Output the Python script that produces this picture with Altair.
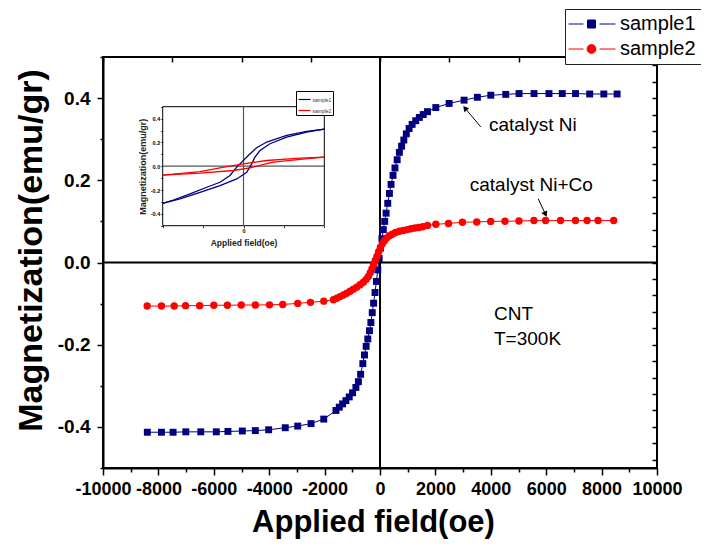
import altair as alt
import pandas as pd

# ---------------- main curves ----------------
S1_FIELD = [-8400, -7890, -7470, -7010, -6470, -5910, -5490, -4970, -4500, -4020,
            -3420, -2970, -2490, -2030, -1590, -1470, -1350, -1230, -1110, -990,
            -870, -780, -700, -620, -560, -500, -440, -380, -330, -280,
            -230, -180, -130, -80, -30, 20, 70, 120, 170, 220,
            280, 340, 400, 470, 540, 620, 700, 780, 860, 950,
            1050, 1160, 1290, 1420, 1560, 1715, 2015, 2495, 3035, 3515,
            4000, 4540, 5020, 5560, 6100, 6580, 7060, 7570, 8080, 8560]
S1_M = [-0.413, -0.413, -0.413, -0.412, -0.412, -0.412, -0.411, -0.410, -0.409, -0.407,
        -0.402, -0.398, -0.392, -0.381, -0.360, -0.352, -0.344, -0.336, -0.327, -0.317,
        -0.304, -0.290, -0.272, -0.246, -0.225, -0.204, -0.186, -0.166, -0.146, -0.122,
        -0.099, -0.073, -0.046, -0.018, 0.010, 0.035, 0.058, 0.080, 0.100, 0.120,
        0.144, 0.168, 0.190, 0.212, 0.230, 0.250, 0.268, 0.283, 0.298, 0.313,
        0.326, 0.336, 0.345, 0.353, 0.360, 0.367, 0.377, 0.387, 0.395, 0.402,
        0.407, 0.409, 0.411, 0.411, 0.411, 0.411, 0.411, 0.410, 0.410, 0.410]

S2_FIELD = [-8405, -7890, -7430, -7020, -6510, -6000, -5510, -5010, -4500, -3990,
            -3510, -2970, -2510, -2030, -1680, -1560, -1440, -1320, -1200, -1080,
            -960, -840, -720, -600, -500, -420, -350, -290, -230, -170,
            -110, -50, 10, 80, 160, 250, 340, 440, 560, 700,
            840, 980, 1120, 1260, 1400, 1540, 1715, 2015, 2471, 2975,
            3493, 3996, 4512, 5016, 5557, 5978, 6518, 7058, 7477, 7873, 8437]
S2_M = [-0.106, -0.106, -0.106, -0.105, -0.105, -0.104, -0.104, -0.1035, -0.1035, -0.103,
        -0.102, -0.0995, -0.097, -0.094, -0.0905, -0.087, -0.083, -0.079, -0.075, -0.070,
        -0.065, -0.060, -0.054, -0.048, -0.041, -0.034, -0.025, -0.015, -0.005, 0.005,
        0.015, 0.026, 0.035, 0.045, 0.053, 0.060, 0.065, 0.069, 0.073, 0.076,
        0.078, 0.080, 0.082, 0.084, 0.085, 0.087, 0.090, 0.093, 0.095, 0.098,
        0.0987, 0.100, 0.1003, 0.101, 0.102, 0.102, 0.102, 0.102, 0.102, 0.102, 0.102]

SERIES = ["sample1", "sample2"]
COLORS = ["#000080", "#ff0000"]

# ---------------- inset hysteresis loops ----------------
IN1_DOWN_F = [1000, 782, 535, 287, 163, 59, -22, -84, -167, -291, -455, -662, -868, -1000]
IN1_DOWN_M = [0.312, 0.293, 0.259, 0.203, 0.155, 0.090, 0.034, -0.008, -0.078, -0.135, -0.177, -0.233, -0.284, -0.312]
IN1_UP_F = [-1000, -786, -538, -291, -84, 40, 101, 142, 204, 328, 535, 782, 1000]
IN1_UP_M = [-0.312, -0.275, -0.219, -0.163, -0.107, -0.051, 0.020, 0.076, 0.132, 0.189, 0.245, 0.287, 0.312]
IN2_DOWN_F = [1000, 700, 287, 0, -208, -538, -1000]
IN2_DOWN_M = [0.077, 0.068, 0.048, 0.020, -0.003, -0.045, -0.075]
IN2_UP_F = [-1000, -538, -126, 80, 163, 369, 700, 1000]
IN2_UP_M = [-0.075, -0.059, -0.036, -0.014, 0.000, 0.034, 0.057, 0.077]

# ---------------- annotations ----------------
ANN_TEXT = ["catalyst Ni", "catalyst Ni+Co", "CNT", "T=300K"]
ANN_X = [3936, 3241, 4116, 4116]
ANN_Y = [0.320, 0.1736, -0.140, -0.1996]
ARROW_X1 = [3637, 5711]
ARROW_Y1 = [0.330, 0.155]
ARROW_X2 = [3069, 5974]
ARROW_Y2 = [0.3756, 0.1174]
HEAD_ANGLE = [320, 155]

X_TICKS = list(range(-10000, 10001, 1000))
Y_TICKS = [round(-0.5 + 0.1 * i, 1) for i in range(11)]
TOP_TICKS = list(range(-10000, 10001, 2500))
RIGHT_TICKS = [round(-0.48 + 0.04 * i, 2) for i in range(25)]

W, H = 554, 411
FONT = "Liberation Sans"

main_df = pd.DataFrame({
    "field": S1_FIELD + S2_FIELD,
    "m": S1_M + S2_M,
    "series": ["sample1"] * len(S1_FIELD) + ["sample2"] * len(S2_FIELD),
})

xs = alt.Scale(domain=[-10000, 10000], nice=False, zero=False)
ys = alt.Scale(domain=[-0.5, 0.5], nice=False, zero=False)

x_axis = alt.Axis(
    orient="bottom", values=X_TICKS, grid=False,
    labelExpr="datum.value % 2000 === 0 ? '' + datum.value : ''",
    tickSize={"condition": {"test": "datum.value % 2000 === 0", "value": 7}, "value": 4},
    tickWidth=1.5, tickColor="black", domainColor="black", domainWidth=2,
    labelFont=FONT, labelFontSize=18, labelFontWeight="bold", labelColor="black",
    labelPadding=5, labelOverlap=False, labelFlush=False,
    title="Applied field(oe)", titleFont=FONT, titleFontSize=31, titleFontWeight="bold",
    titleColor="black", titlePadding=9, titleX=270,
)
y_axis = alt.Axis(
    orient="left", values=Y_TICKS, grid=False,
    labelExpr="abs(round(datum.value*10)) % 2 === 0 ? (datum.value < -0.001 ? '-' : '') + format(abs(datum.value), '.1f') : ''",
    tickSize={"condition": {"test": "abs(round(datum.value*10)) % 2 === 0", "value": 6}, "value": 3},
    tickWidth=1.5, tickColor="black", domainColor="black", domainWidth=2,
    labelFont=FONT, labelFontSize=19, labelFontWeight="bold", labelColor="black",
    labelPadding=7, labelOverlap=False, labelFlush=False,
    title="Magnetization(emu/gr)", titleFont=FONT, titleFontSize=34, titleFontWeight="bold",
    titleColor="black", titlePadding=9, titleY=193,
)


def MX(f):
    return alt.X(f, scale=xs, axis=x_axis)


def MY(f):
    return alt.Y(f, scale=ys, axis=y_axis)


base = alt.Chart(main_df)

zero_v = alt.Chart(pd.DataFrame({"v": [0]})).mark_rule(color="black", strokeWidth=2).encode(
    x=MX("v:Q"))
zero_h = alt.Chart(pd.DataFrame({"v": [0]})).mark_rule(color="black", strokeWidth=2).encode(
    y=MY("v:Q"))

lines = base.mark_line(strokeWidth=1).encode(
    x=MX("field:Q"), y=MY("m:Q"),
    color=alt.Color("series:N", scale=alt.Scale(domain=SERIES, range=COLORS), legend=None),
    order="field:Q",
)
pts1 = base.transform_filter("datum.series === 'sample1'").mark_point(
    shape="square", filled=True, size=48, color=COLORS[0], opacity=1).encode(
    x=MX("field:Q"), y=MY("m:Q"))
pts2 = base.transform_filter("datum.series === 'sample2'").mark_point(
    shape="circle", filled=True, size=55, color=COLORS[1], opacity=1).encode(
    x=MX("field:Q"), y=MY("m:Q"))

SQ_PATH = "M-2.875,0H0.875M1.875,-1H3.875V1H1.875ZM4.875,0H8.875"
CI_PATH = "M-2.875,0H0.875M1.775,0A1.1,1.1 0 1,1 3.975,0A1.1,1.1 0 1,1 1.775,0ZM4.875,0H8.875"

main_legend = alt.Legend(
    orient="none", legendX=462, legendY=-48, title=None,
    labelFont=FONT, labelFontSize=20, labelColor="black", labelOffset=30,
    padding=5, rowPadding=5, strokeColor="#222222", fillColor="white",
    symbolStrokeWidth=1, symbolSize=64,
)
legend_layer = base.transform_filter("false").mark_point(
    filled=True, size=64, opacity=1, strokeWidth=1).encode(
    x=MX("field:Q"), y=MY("m:Q"),
    fill=alt.Fill("series:N", scale=alt.Scale(domain=SERIES, range=COLORS), legend=main_legend),
    stroke=alt.Stroke("series:N", scale=alt.Scale(domain=SERIES, range=COLORS), legend=main_legend),
    shape=alt.Shape("series:N", scale=alt.Scale(domain=SERIES, range=[SQ_PATH, CI_PATH]), legend=main_legend),
)

ann_df = pd.DataFrame({"t": ANN_TEXT, "x": ANN_X, "y": ANN_Y})
ann = alt.Chart(ann_df).mark_text(align="left", baseline="alphabetic", font=FONT,
                                  fontSize=19, color="black").encode(
    x=MX("x:Q"), y=MY("y:Q"), text="t:N")
arr_df = pd.DataFrame({"x1": ARROW_X1, "y1": ARROW_Y1, "x2": ARROW_X2, "y2": ARROW_Y2,
                       "a": HEAD_ANGLE})
arrows = alt.Chart(arr_df).mark_rule(color="black", strokeWidth=1).encode(
    x=MX("x1:Q"), y=MY("y1:Q"), x2="x2:Q", y2="y2:Q")
heads = alt.Chart(arr_df).mark_point(shape="triangle-up", filled=True, size=40,
                                     color="black", opacity=1).encode(
    x=MX("x2:Q"), y=MY("y2:Q"), angle=alt.Angle("a:Q", scale=None))

main_group = alt.layer(zero_v, zero_h, lines, pts1, pts2, legend_layer, arrows, heads, ann)

# ---------------- mirror axes (top / right, ticks inside) ----------------
mirror_df = pd.DataFrame({"x": [-10000, 10000], "y": [-0.5, 0.5]})
mirror_group = alt.layer(alt.Chart(mirror_df).mark_point(opacity=0).encode(
    x=alt.X("x:Q", scale=alt.Scale(domain=[-10000, 10000], nice=False, zero=False),
            axis=alt.Axis(orient="top", values=TOP_TICKS, labels=False, domain=False,
                          grid=False, ticks=True, tickSize=5, offset=-5, tickWidth=1.5,
                          tickColor="black", title=None)),
    y=alt.Y("y:Q", scale=alt.Scale(domain=[-0.5, 0.5], nice=False, zero=False),
            axis=alt.Axis(orient="right", values=RIGHT_TICKS, labels=False, domain=False,
                          grid=False, ticks=True, tickSize=5, offset=-5, tickWidth=1.5,
                          tickColor="black", title=None)),
))

# ---------------- inset ----------------
rows = []
for f, m in zip(IN1_DOWN_F, IN1_DOWN_M):
    rows.append(("sample1", "s1d", f, m))
for f, m in zip(IN1_UP_F, IN1_UP_M):
    rows.append(("sample1", "s1u", f, m))
for f, m in zip(IN2_DOWN_F, IN2_DOWN_M):
    rows.append(("sample2", "s2d", f, m))
for f, m in zip(IN2_UP_F, IN2_UP_M):
    rows.append(("sample2", "s2u", f, m))
inset_df = pd.DataFrame(rows, columns=["series", "key", "f", "m"])
inset_df["idx"] = range(len(inset_df))

ix = alt.Scale(domain=[-1000, 1000], range=[59.7, 221.3], nice=False, zero=False)
iy = alt.Scale(domain=[-0.5, 0.5], range=[168.7, 49.7], nice=False, zero=False)

inset_legend = alt.Legend(
    orient="none", legendX=193, legendY=34, title=None, symbolType="stroke",
    symbolSize=144, symbolStrokeWidth=1.2, labelFont=FONT, labelFontSize=5,
    labelOffset=1, padding=1.5, rowPadding=1, strokeColor="black", fillColor="white",
    labelColor="#333333",
)
in_x_axis = alt.Axis(orient="bottom", offset=-(H - 168.7), values=[-1000, -500, 0, 500, 1000],
                     labelExpr="datum.value === 0 ? '0' : ''", tickSize=2, tickWidth=0.8,
                     tickColor="black", domain=False, grid=False, labelFont=FONT,
                     labelFontSize=5.5, labelFontWeight="bold", labelPadding=1,
                     labelColor="black", labelFlush=False,
                     title="Applied field(oe)", titleFont=FONT, titleFontSize=8.5,
                     titleFontWeight="bold", titlePadding=4, titleColor="#222222")
in_y_axis = alt.Axis(orient="left", offset=-59.7, values=Y_TICKS,
                     labelExpr="abs(round(datum.value*10)) % 2 === 0 && abs(datum.value) < 0.45 ? (datum.value < -0.001 ? '-' : '') + format(abs(datum.value), '.1f') : ''",
                     tickSize=2, tickWidth=0.8, tickColor="black", domain=False, grid=False,
                     labelFont=FONT, labelFontSize=5.5, labelFontWeight="bold",
                     labelPadding=1, labelColor="black", labelFlush=False, labelOverlap=False,
                     title="Magnetization(emu/gr)", titleFont=FONT, titleFontSize=9,
                     titleFontWeight="bold", titlePadding=3, titleColor="#222222")


def IX(f):
    return alt.X(f, scale=ix, axis=in_x_axis)


def IY(f):
    return alt.Y(f, scale=iy, axis=in_y_axis)


frame_df = pd.DataFrame({"x1": [-1000], "x2": [1000], "y1": [-0.5], "y2": [0.5]})
in_frame = alt.Chart(frame_df).mark_rect(fillOpacity=0, stroke="black", strokeWidth=1).encode(
    x=IX("x1:Q"), x2="x2:Q", y=IY("y1:Q"), y2="y2:Q")
in_vline = alt.Chart(pd.DataFrame({"x": [0], "y1": [-0.5], "y2": [0.5]})).mark_rule(
    color="#555555", strokeWidth=1.2).encode(x=IX("x:Q"), y=IY("y1:Q"), y2="y2:Q")
in_hline = alt.Chart(pd.DataFrame({"y": [0], "x1": [-1000], "x2": [1000]})).mark_rule(
    color="#555555", strokeWidth=1.2).encode(y=IY("y:Q"), x=IX("x1:Q"), x2="x2:Q")
in_lines = alt.Chart(inset_df).mark_line(strokeWidth=1.3).encode(
    x=IX("f:Q"), y=IY("m:Q"),
    color=alt.Color("series:N", scale=alt.Scale(domain=SERIES, range=COLORS), legend=inset_legend),
    detail="key:N", order="idx:Q")

inset_group = alt.layer(in_frame, in_vline, in_hline, in_lines)

chart = alt.layer(inset_group, mirror_group, main_group).resolve_scale(
    x="independent", y="independent", color="independent"
).resolve_axis(x="independent", y="independent").resolve_legend(
    color="independent"
).properties(
    width=W, height=H,
    padding={"left": 95, "top": 49, "right": 44, "bottom": 71},
    autosize=alt.AutoSizeParams(type="none"),
).configure(font=FONT).configure_view(stroke="black", strokeWidth=2)

chart.save("out.html", embed_options={"renderer": "svg", "actions": False})
